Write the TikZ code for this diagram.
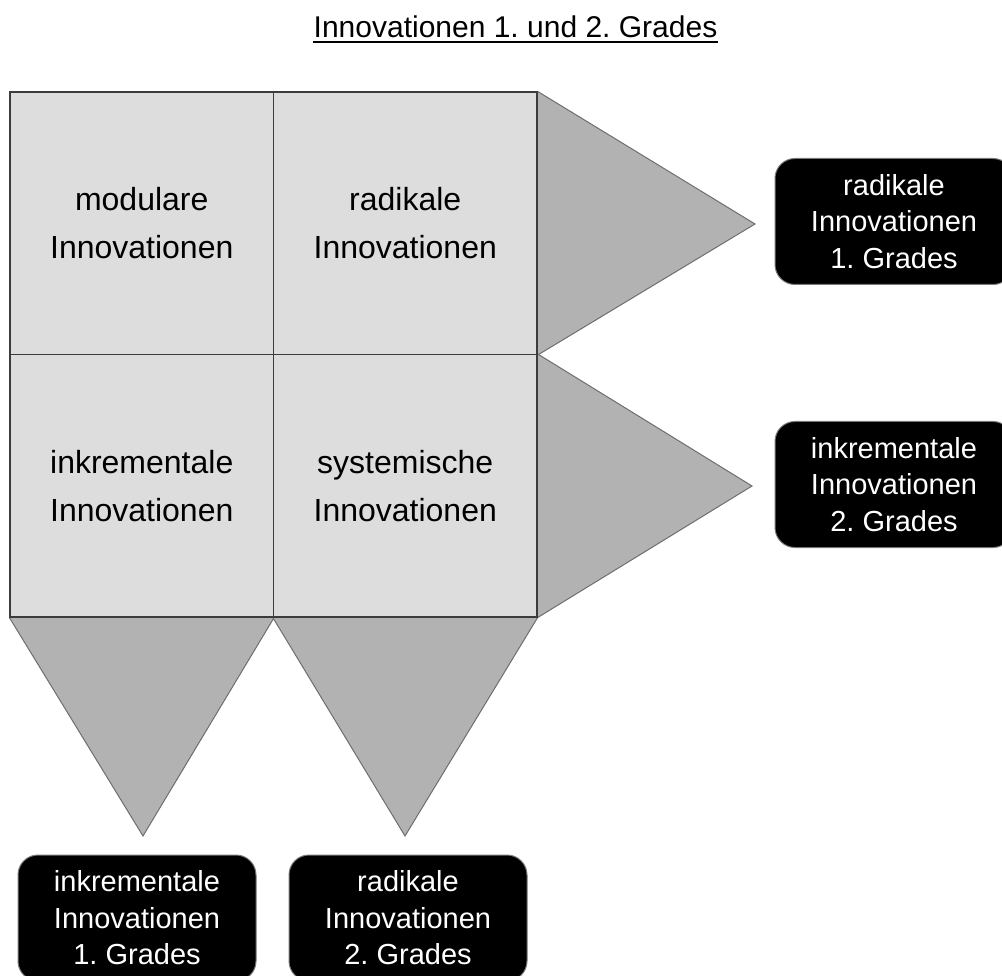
\documentclass[tikz,border=0pt]{standalone}
\usepackage{fontspec}
\setmainfont{Liberation Sans}
\usetikzlibrary{backgrounds}
\frenchspacing

\definecolor{cellgray}{RGB}{221,221,221}
\definecolor{wedgegray}{RGB}{178,178,178}
\definecolor{wedgeline}{RGB}{110,110,110}
\definecolor{gridline}{RGB}{60,60,60}
\definecolor{boxline}{RGB}{120,120,120}

\tikzset{
  cell/.style={draw=gridline, line width=1.2pt, fill=cellgray, inner sep=0pt,
    minimum width=263.5pt, minimum height=262.5pt, align=center,
    font=\fontsize{32}{48}\selectfont},
  result/.style={draw=boxline, line width=1pt, fill=black, text=white,
    rounded corners=20pt, minimum width=238pt, minimum height=126pt,
    inner sep=0pt, align=center, font=\fontsize{29}{36.5}\selectfont},
  wedge/.style={fill=wedgegray},
  wedgeside/.style={draw=wedgeline, line width=1pt}
}

\begin{document}
\begin{tikzpicture}[x=1pt,y=-1pt]
\path[use as bounding box] (0,0) rectangle (1002,976);
\clip (0,0) rectangle (1002,976);

% title
\node[anchor=base, inner sep=0pt, font=\fontsize{30}{36}\selectfont] (title) at (515.5,38)
  {Innovationen 1. und 2. Grades};
\draw[line width=2.5pt] ([yshift=-3.5pt]title.south west) -- ([yshift=-3.5pt]title.south east);

% matrix of the four kinds
\node[cell] (modular) at (141.75,223.25) {modulare\\Innovationen};
\node[cell] (radical) at (405.25,223.25) {radikale\\Innovationen};
\node[cell] (incremental) at (141.75,485.75) {inkrementale\\Innovationen};
\node[cell] (systemic) at (405.25,485.75) {systemische\\Innovationen};

% tips of the wedges
\coordinate (tipA) at (755,224);
\coordinate (tipB) at (752,486);
\coordinate (tipC) at (143,836);
\coordinate (tipD) at (405,836);

% wedges behind the matrix
\begin{scope}[on background layer]
\fill[wedge] (radical.north east) -- (tipA) -- (radical.south east) -- cycle;
\draw[wedgeside] (radical.north east) -- (tipA) -- (radical.south east);
\fill[wedge] (systemic.north east) -- (tipB) -- (systemic.south east) -- cycle;
\draw[wedgeside] (systemic.north east) -- (tipB) -- (systemic.south east);
\fill[wedge] (incremental.south west) -- (tipC) -- (incremental.south east) -- cycle;
\draw[wedgeside] (incremental.south west) -- (tipC) -- (incremental.south east);
\fill[wedge] (systemic.south west) -- (tipD) -- (systemic.south east) -- cycle;
\draw[wedgeside] (systemic.south west) -- (tipD) -- (systemic.south east);
\end{scope}

% results
\node[result] (radOne) at (894,221.5) {radikale\\Innovationen\\1. Grades};
\node[result] (incTwo) at (894,484.5) {inkrementale\\Innovationen\\2. Grades};
\node[result] (incOne) at (137,918) {inkrementale\\Innovationen\\1. Grades};
\node[result] (radTwo) at (408,918) {radikale\\Innovationen\\2. Grades};
\end{tikzpicture}
\end{document}
